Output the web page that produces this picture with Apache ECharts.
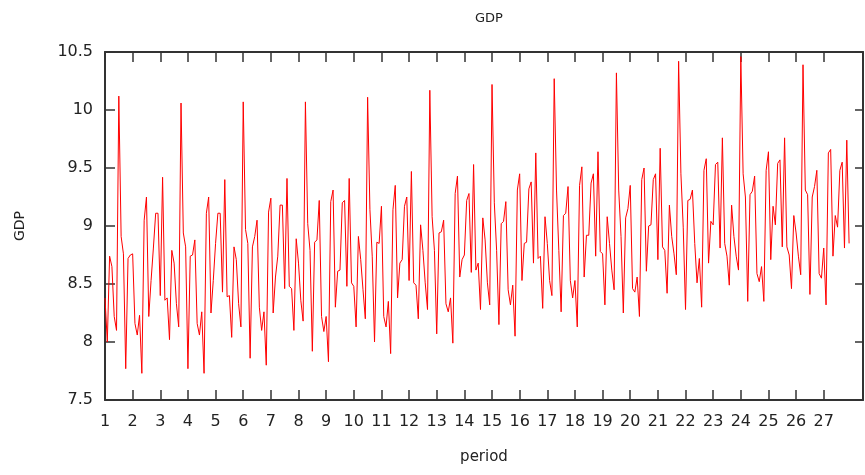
<!DOCTYPE html>
<html>
<head>
<meta charset="utf-8">
<title>GDP</title>
<script src="https://cdn.jsdelivr.net/npm/echarts@6.0.0/dist/echarts.min.js"></script>
<style>
  html, body { margin: 0; padding: 0; background: #fff; }
  #main { width: 865px; height: 475px; }
</style>
</head>
<body>
<div id="main"></div>
<script>
// monthly GDP values, 12 per period
var gdp = [
  8.38, 8.00, 8.74, 8.65, 8.22, 8.10, 10.12, 8.91, 8.76, 7.77, 8.72, 8.75,
  8.76, 8.16, 8.06, 8.23, 7.73, 9.05, 9.25, 8.22, 8.53, 8.81, 9.11, 9.11,
  8.40, 9.42, 8.36, 8.38, 8.02, 8.79, 8.68, 8.33, 8.13, 10.06, 8.94, 8.82,
  7.77, 8.74, 8.75, 8.88, 8.16, 8.06, 8.26, 7.73, 9.11, 9.25, 8.25, 8.53,
  8.85, 9.11, 9.11, 8.43, 9.40, 8.39, 8.40, 8.04, 8.82, 8.71, 8.33, 8.13,
  10.07, 8.97, 8.85, 7.86, 8.82, 8.91, 9.05, 8.30, 8.10, 8.26, 7.80, 9.12,
  9.24, 8.25, 8.56, 8.74, 9.18, 9.18, 8.46, 9.41, 8.48, 8.46, 8.10, 8.89,
  8.68, 8.36, 8.18, 10.07, 9.02, 8.79, 7.92, 8.86, 8.88, 9.22, 8.22, 8.09,
  8.22, 7.83, 9.21, 9.31, 8.30, 8.61, 8.62, 9.20, 9.22, 8.48, 9.41, 8.51,
  8.48, 8.13, 8.91, 8.71, 8.45, 8.20, 10.11, 9.14, 8.74, 8.00, 8.86, 8.85,
  9.17, 8.22, 8.13, 8.35, 7.90, 9.14, 9.35, 8.38, 8.68, 8.71, 9.17, 9.25,
  8.53, 9.47, 8.51, 8.49, 8.20, 9.01, 8.79, 8.51, 8.28, 10.17, 9.08, 8.79,
  8.07, 8.94, 8.95, 9.05, 8.33, 8.26, 8.38, 7.99, 9.28, 9.43, 8.56, 8.71,
  8.75, 9.22, 9.28, 8.60, 9.53, 8.62, 8.68, 8.28, 9.07, 8.88, 8.51, 8.32,
  10.22, 9.20, 8.79, 8.15, 9.02, 9.04, 9.21, 8.45, 8.32, 8.49, 8.05, 9.31,
  9.45, 8.53, 8.85, 8.86, 9.32, 9.38, 8.68, 9.63, 8.72, 8.74, 8.29, 9.08,
  8.85, 8.53, 8.40, 10.27, 9.31, 8.79, 8.26, 9.09, 9.11, 9.34, 8.53, 8.38,
  8.53, 8.13, 9.35, 9.51, 8.56, 8.92, 8.92, 9.37, 9.45, 8.74, 9.64, 8.78,
  8.76, 8.32, 9.08, 8.85, 8.62, 8.45, 10.32, 9.31, 8.91, 8.25, 9.07, 9.15,
  9.35, 8.46, 8.43, 8.56, 8.22, 9.40, 9.50, 8.61, 9.00, 9.01, 9.40, 9.45,
  8.71, 9.67, 8.82, 8.79, 8.42, 9.18, 8.91, 8.76, 8.58, 10.42, 9.45, 8.99,
  8.28, 9.22, 9.23, 9.31, 8.85, 8.51, 8.72, 8.30, 9.48, 9.58, 8.68, 9.04,
  9.01, 9.53, 9.55, 8.81, 9.76, 8.85, 8.74, 8.49, 9.18, 8.91, 8.74, 8.62,
  10.46, 9.45, 9.25, 8.35, 9.27, 9.30, 9.43, 8.59, 8.52, 8.65, 8.35, 9.48,
  9.64, 8.71, 9.17, 9.01, 9.54, 9.57, 8.82, 9.76, 8.82, 8.75, 8.46, 9.09,
  8.94, 8.74, 8.58, 10.39, 9.31, 9.27, 8.41, 9.25, 9.34, 9.48, 8.59, 8.55,
  8.81, 8.32, 9.63, 9.66, 8.74, 9.09, 8.99, 9.48, 9.55, 8.81, 9.74, 8.85
];
var firstPeriod = 1;
var pointsPerPeriod = 12;
// x tick labels
var periodTicks = [1, 2, 3, 4, 5, 6, 7, 8, 9, 10, 11, 12, 13, 14, 15, 16, 17, 18, 19, 20, 21, 22, 23, 24, 25, 26, 27];
var yTicks = [7.5, 8, 8.5, 9, 9.5, 10, 10.5];

var points = gdp.map(function (v, i) {
  return [firstPeriod + i / pointsPerPeriod, v];
});

var font = 'DejaVu Sans';
var axisColor = '#333';

var chart = echarts.init(document.getElementById('main'));

var option = {
  animation: false,
  backgroundColor: '#fff',
  title: {
    text: 'GDP',
    left: 484,
    top: 7,
    textAlign: 'center',
    textStyle: { fontFamily: font, fontSize: 13, fontWeight: 'normal', color: '#222' }
  },
  grid: { left: 105, right: 2, top: 52, bottom: 75 },
  xAxis: [
    {
      type: 'value',
      position: 'bottom',
      min: 1,
      max: 28.42,
      name: 'period',
      nameLocation: 'middle',
      nameGap: 50,
      nameTextStyle: { fontFamily: font, fontSize: 15, color: '#222' },
      axisLine: { lineStyle: { color: axisColor, width: 2 } },
      axisTick: { inside: true, length: 10, customValues: periodTicks, lineStyle: { color: axisColor, width: 1.5 } },
      axisLabel: { customValues: periodTicks, margin: 14, fontFamily: font, fontSize: 16, color: '#222' },
      splitLine: { show: false }
    },
    {
      type: 'value',
      position: 'top',
      min: 1,
      max: 28.42,
      axisLine: { lineStyle: { color: axisColor, width: 2 } },
      axisTick: { inside: true, length: 10, customValues: periodTicks, lineStyle: { color: axisColor, width: 1.5 } },
      axisLabel: { show: false },
      splitLine: { show: false }
    }
  ],
  yAxis: [
    {
      type: 'value',
      position: 'left',
      min: 7.5,
      max: 10.5,
      interval: 0.5,
      name: 'GDP',
      nameLocation: 'middle',
      nameGap: 78,
      nameTextStyle: { fontFamily: font, fontSize: 14, color: '#222' },
      axisLine: { show: true, lineStyle: { color: axisColor, width: 2 } },
      axisTick: { show: true, inside: true, length: 10, customValues: yTicks, lineStyle: { color: axisColor, width: 1.5 } },
      axisLabel: { margin: 12, fontFamily: font, fontSize: 16, color: '#222' },
      splitLine: { show: false }
    },
    {
      type: 'value',
      position: 'right',
      min: 7.5,
      max: 10.5,
      interval: 0.5,
      axisLine: { show: true, lineStyle: { color: axisColor, width: 2 } },
      axisTick: { show: true, inside: true, length: 8, lineStyle: { color: axisColor, width: 1.5 } },
      axisLabel: { show: false },
      splitLine: { show: false }
    }
  ],
  series: [
    {
      name: 'GDP',
      type: 'line',
      xAxisIndex: 0,
      yAxisIndex: 0,
      data: points,
      showSymbol: false,
      lineStyle: { color: '#ff0000', width: 1 },
      itemStyle: { color: '#ff0000' }
    }
  ]
};

chart.setOption(option);
</script>
</body>
</html>
